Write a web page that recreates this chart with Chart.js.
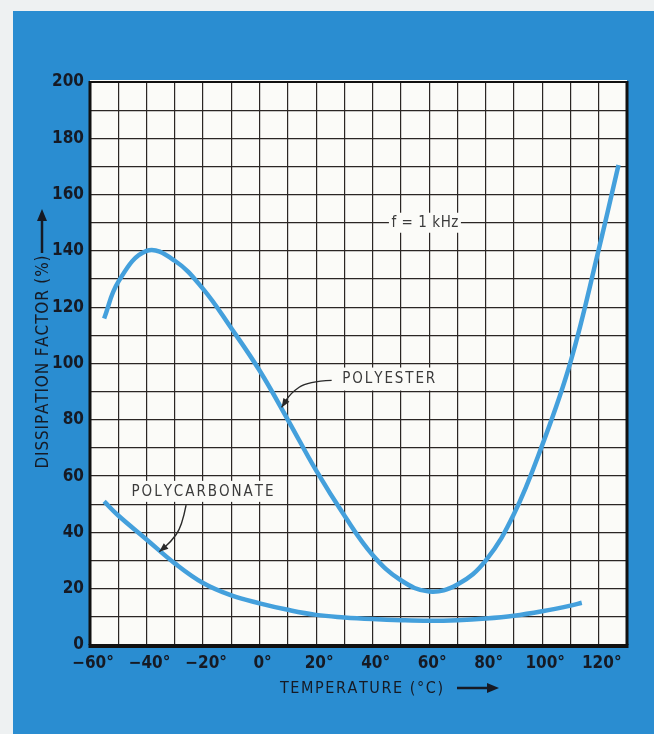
<!DOCTYPE html>
<html>
<head>
<meta charset="utf-8">
<script src="https://cdn.jsdelivr.net/npm/chart.js@4.4.0/dist/chart.umd.min.js"></script>
<style>
html, body { margin: 0; padding: 0; background: #eef1f2; }
canvas { display: block; }
</style>
</head>
<body>
<canvas id="graphique" width="654" height="734"></canvas>
<script>
// temperature (deg C) / dissipation factor (%)
var tempPolyester = [-55, -50, -40, -30, -20, -10, 0, 10, 20, 30, 40, 50, 60, 70, 80, 90, 100, 110, 120, 127];
var dfPolyester = [116, 129, 140, 136.5, 126.5, 112.5, 97.5, 80, 62, 46, 32, 23, 19, 21.5, 30, 46.5, 71, 100.5, 140.5, 170.5];
var tempPolycarbonate = [-55, -50, -40, -30, -20, -10, 0, 10, 20, 30, 40, 50, 60, 70, 80, 90, 100, 110, 114];
var dfPolycarbonate = [51, 46, 37.5, 29, 22, 17.6, 14.8, 12.5, 10.7, 9.8, 9.2, 8.8, 8.6, 8.8, 9.4, 10.4, 12, 14, 15];
var xTicks = [-60, -40, -20, 0, 20, 40, 60, 80, 100, 120];
var yTicks = [0, 20, 40, 60, 80, 100, 120, 140, 160, 180, 200];

var policeEtroite = "'Liberation Sans Narrow', 'DejaVu Sans Condensed', 'Liberation Sans', sans-serif";
var bleuFond = '#2a8dd1';
var bleuCourbe = '#44a0dc';
var encre = '#161a24';

function points(xs, ys) {
    var res = [];
    for (let i = 0; i < xs.length; i++) {
        res.push({ x: xs[i], y: ys[i] });
    }
    return res;
}

// text with extra spacing so it spans a given width
function texteEspace(ctx, texte, xc, y, largeur) {
    var brut = 0;
    for (let i = 0; i < texte.length; i++) brut += ctx.measureText(texte[i]).width;
    var espace = (largeur - brut) / (texte.length - 1);
    var x = xc - largeur / 2;
    ctx.textAlign = 'left';
    for (let i = 0; i < texte.length; i++) {
        ctx.fillText(texte[i], x, y);
        x += ctx.measureText(texte[i]).width + espace;
    }
}

function fleche(ctx, pts, taille) {
    ctx.beginPath();
    ctx.moveTo(pts[0][0], pts[0][1]);
    for (let i = 1; i < pts.length - 1; i++) {
        var mx = (pts[i][0] + pts[i + 1][0]) / 2;
        var my = (pts[i][1] + pts[i + 1][1]) / 2;
        ctx.quadraticCurveTo(pts[i][0], pts[i][1], mx, my);
    }
    var a = pts[pts.length - 2], b = pts[pts.length - 1];
    ctx.lineTo(b[0], b[1]);
    ctx.stroke();
    var ang = Math.atan2(b[1] - a[1], b[0] - a[0]);
    ctx.beginPath();
    ctx.moveTo(b[0], b[1]);
    ctx.lineTo(b[0] - taille * Math.cos(ang) + taille * 0.4 * Math.sin(ang), b[1] - taille * Math.sin(ang) - taille * 0.4 * Math.cos(ang));
    ctx.lineTo(b[0] - taille * Math.cos(ang) - taille * 0.4 * Math.sin(ang), b[1] - taille * Math.sin(ang) + taille * 0.4 * Math.cos(ang));
    ctx.closePath();
    ctx.fill();
}

var decor = {
    id: 'decor',
    beforeDraw: function(chart) {
        var ctx = chart.ctx, a = chart.chartArea;
        ctx.save();
        ctx.fillStyle = '#eef1f2';
        ctx.fillRect(0, 0, chart.width, chart.height);
        ctx.fillStyle = bleuFond;
        ctx.fillRect(13, 11, chart.width - 13, chart.height - 11);
        ctx.fillStyle = '#fbfbf8';
        ctx.fillRect(a.left, a.top - 2, a.right - a.left, a.bottom - a.top + 2);
        ctx.restore();
    },
    beforeDatasetsDraw: function(chart) {
        var ctx = chart.ctx, a = chart.chartArea;
        var sx = chart.scales.x, sy = chart.scales.y;
        ctx.save();
        // blank patches behind the labels
        ctx.fillStyle = '#fbfbf8';
        ctx.fillRect(sx.getPixelForValue(58.5) - 36, sy.getPixelForValue(150) - 10, 72, 20);
        ctx.fillRect(sx.getPixelForValue(45.7) - 49, sy.getPixelForValue(94.3) - 12, 98, 23);
        ctx.fillRect(sx.getPixelForValue(-20.2) - 74, sy.getPixelForValue(54.4) - 11, 148, 21);
        // frame
        ctx.strokeStyle = '#111';
        ctx.lineWidth = 2;
        ctx.beginPath(); ctx.moveTo(a.left, a.top); ctx.lineTo(a.right, a.top); ctx.stroke();
        ctx.lineWidth = 3;
        ctx.beginPath(); ctx.moveTo(a.left, a.top - 1); ctx.lineTo(a.left, a.bottom); ctx.stroke();
        ctx.beginPath(); ctx.moveTo(a.right, a.top - 1); ctx.lineTo(a.right, a.bottom); ctx.stroke();
        ctx.lineWidth = 4;
        ctx.beginPath(); ctx.moveTo(a.left - 1.5, a.bottom + 1); ctx.lineTo(a.right + 1.5, a.bottom + 1); ctx.stroke();
        ctx.restore();
    },
    afterDatasetsDraw: function(chart) {
        var ctx = chart.ctx;
        var sx = chart.scales.x, sy = chart.scales.y;
        var px = function(t) { return sx.getPixelForValue(t); };
        var py = function(v) { return sy.getPixelForValue(v); };
        ctx.save();
        ctx.textBaseline = 'middle';
        ctx.fillStyle = '#3b3b3b';
        ctx.font = '15px ' + policeEtroite;
        texteEspace(ctx, 'f = 1 kHz', px(58.5), py(150), 67);
        texteEspace(ctx, 'POLYESTER', px(45.7), py(94.3), 93);
        texteEspace(ctx, 'POLYCARBONATE', px(-20.2), py(54.4), 142);

        ctx.strokeStyle = '#2a2a2a';
        ctx.fillStyle = '#2a2a2a';
        ctx.lineWidth = 1.4;
        fleche(ctx, [[px(25.5), py(94)], [px(17), py(93.6)], [px(11), py(89.5)], [px(7.8), py(84.4)]], 9);
        fleche(ctx, [[px(-26), py(49.7)], [px(-27.5), py(42)], [px(-31.5), py(36.5)], [px(-35.5), py(33.1)]], 9);

        // axis titles with their arrows
        ctx.fillStyle = encre;
        ctx.strokeStyle = encre;
        ctx.font = '16px ' + policeEtroite;
        texteEspace(ctx, 'TEMPERATURE (°C)', 361.5, 689, 163);
        ctx.lineWidth = 2.5;
        ctx.beginPath(); ctx.moveTo(457, 688); ctx.lineTo(490, 688); ctx.stroke();
        ctx.beginPath(); ctx.moveTo(499, 688); ctx.lineTo(487, 683); ctx.lineTo(487, 693); ctx.closePath(); ctx.fill();

        ctx.save();
        ctx.translate(44, 362);
        ctx.rotate(-Math.PI / 2);
        ctx.font = '17px ' + policeEtroite;
        texteEspace(ctx, 'DISSIPATION FACTOR (%)', 0, 0, 213);
        ctx.restore();
        ctx.beginPath(); ctx.moveTo(42, 253); ctx.lineTo(42, 218); ctx.stroke();
        ctx.beginPath(); ctx.moveTo(42, 209); ctx.lineTo(37, 221); ctx.lineTo(47, 221); ctx.closePath(); ctx.fill();
        ctx.restore();
    }
};

function etiquetteTemp(v) {
    if (xTicks.indexOf(v) < 0) return '';
    return (v < 0 ? '\u2212' + Math.abs(v) : '' + v) + '\u00b0';
}

var ctx = document.getElementById('graphique').getContext('2d');
var chart = new Chart(ctx, {
    type: 'line',
    data: {
        datasets: [{
            label: 'POLYESTER',
            data: points(tempPolyester, dfPolyester),
            borderColor: bleuCourbe,
            borderWidth: 4.5,
            pointRadius: 0,
            fill: false,
            tension: 0.4
        }, {
            label: 'POLYCARBONATE',
            data: points(tempPolycarbonate, dfPolycarbonate),
            borderColor: bleuCourbe,
            borderWidth: 4.5,
            pointRadius: 0,
            fill: false,
            tension: 0.4
        }]
    },
    options: {
        responsive: false,
        animation: false,
        devicePixelRatio: 1,
        layout: { padding: { left: 0, top: 82, right: 27, bottom: 0 } },
        plugins: {
            legend: { display: false },
            tooltip: { enabled: false }
        },
        scales: {
            x: {
                type: 'linear',
                min: -60,
                max: 130,
                afterFit: function(scale) { scale.height = 89; },
                border: { display: false },
                grid: { color: '#2b2624', lineWidth: 1.2, drawTicks: false },
                ticks: {
                    stepSize: 10,
                    autoSkip: false,
                    maxRotation: 0,
                    padding: 8,
                    labelOffset: 3,
                    color: encre,
                    font: { family: policeEtroite, size: 17, weight: 'bold' },
                    callback: etiquetteTemp
                }
            },
            y: {
                min: 0,
                max: 200,
                afterFit: function(scale) { scale.width = 90; },
                border: { display: false },
                grid: { color: '#2b2624', lineWidth: 1.2, drawTicks: false },
                ticks: {
                    stepSize: 10,
                    autoSkip: false,
                    padding: 6,
                    color: encre,
                    font: { family: policeEtroite, size: 17, weight: 'bold' },
                    callback: function(v) { return yTicks.indexOf(v) < 0 ? '' : '' + v; }
                }
            }
        }
    },
    plugins: [decor]
});
</script>
</body>
</html>
